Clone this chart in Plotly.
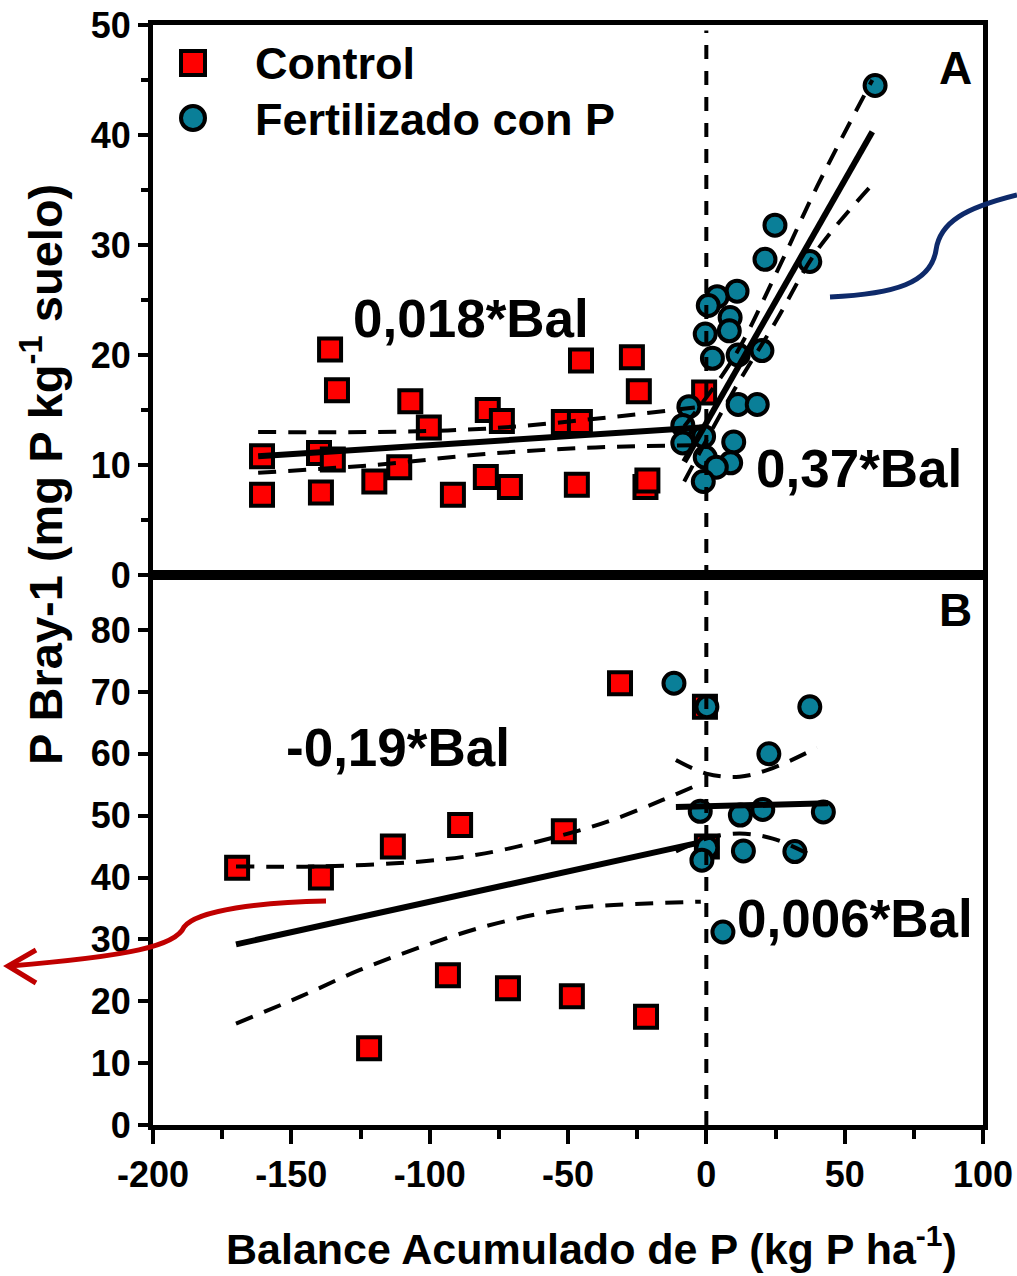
import plotly.graph_objects as go

# ---------------- data ----------------
# Panel A (top)
ctrl_top_x = [-160.6, -160.6, -139.3, -140.0, -135.0, -136.0, -133.5, -120.0, -111.0, -107.0,
              -100.3, -91.6, -79.0, -79.7, -73.9, -71.0, -51.5, -46.8, -45.7, -45.3,
              -26.9, -24.4, -22.0, -21.3, -0.8]
ctrl_top_y = [7.3, 10.8, 7.5, 11.1, 10.5, 20.5, 16.8, 8.5, 9.8, 15.8,
              13.4, 7.3, 15.0, 8.9, 14.0, 8.0, 13.9, 8.2, 13.9, 19.5,
              19.8, 16.7, 8.0, 8.6, 16.6]
fert_top_x = [61.0, 24.8, 21.2, 37.4, 11.1, 3.9, 0.7, 8.6, -0.4, 8.3,
              2.2, 11.5, 20.1, 11.5, 18.4, -6.3, -8.5, -8.5, -1.0, 9.9,
              8.8, -0.4, 3.6, -1.1]
fert_top_y = [44.5, 31.8, 28.7, 28.5, 25.8, 25.3, 24.5, 23.4, 21.9, 22.2,
              19.7, 20.0, 20.4, 15.5, 15.5, 15.3, 13.6, 12.0, 12.6, 12.1,
              10.2, 10.7, 9.8, 8.5]
ctrl_top_fit_x = [-162, -2]
ctrl_top_fit_y = [10.8, 13.4]
ctrl_top_band_x = [-162, -120, -80, -40, -2]
ctrl_top_upper = [13.0, 13.0, 13.3, 14.2, 15.3]
ctrl_top_lower = [9.3, 10.0, 11.0, 11.6, 11.8]
fert_top_fit_x = [-8, 60]
fert_top_fit_y = [10.3, 40.3]
fert_top_band_x = [-8, 10, 25, 40, 60]
fert_top_upper = [13.5, 19.8, 27.3, 35.3, 45.0]
fert_top_lower = [8.5, 16.8, 23.0, 29.5, 35.5]

# Panel B (bottom)
ctrl_bot_x = [-169.6, -139.3, -113.3, -89.0, -51.5, -31.2, -0.5, 0.2, -93.4, -71.7, -48.6, -21.8, -121.9]
ctrl_bot_y = [41.6, 40.0, 45.0, 48.5, 47.5, 71.4, 67.6, 45.0, 24.2, 22.1, 20.8, 17.5, 12.4]
fert_bot_x = [-11.7, 37.4, 22.6, -2.2, 12.3, 20.4, 42.3, 0.2, -1.6, 13.4, 32.0, 6.0, 0.2]
fert_bot_y = [71.4, 67.6, 60.0, 50.7, 50.1, 51.0, 50.6, 44.8, 42.8, 44.3, 44.2, 31.2, 67.6]
ctrl_bot_fit_x = [-170, -3]
ctrl_bot_fit_y = [29.2, 45.6]
ctrl_bot_upper_x = [-170, -140, -103, -80, -50, -34, -16, -2]
ctrl_bot_upper = [41.8, 41.8, 42.6, 43.9, 47.1, 49.3, 52.5, 55.2]
ctrl_bot_lower_x = [-170, -147, -125, -103, -80, -56, -42, -2]
ctrl_bot_lower = [16.4, 20.7, 25.1, 28.8, 32.1, 34.5, 35.3, 36.1]
fert_bot_fit_x = [-11, 44]
fert_bot_fit_y = [51.4, 52.0]
fert_bot_band_x = [-11, 0, 12, 24, 40]
fert_bot_upper = [59.0, 56.8, 56.3, 57.7, 61.0]
fert_bot_lower = [44.2, 46.3, 47.1, 46.3, 43.1]

x_ticks = [-200, -150, -100, -50, 0, 50, 100]
x_tick_labels = ["-200", "-150", "-100", "-50", "0", "50", "100"]
legend_labels = ["Control", "Fertilizado con P"]
slope_labels = ["0,018*Bal", "0,37*Bal", "-0,19*Bal", "0,006*Bal"]

# ---------------- styling ----------------
RED = "#ff0000"
TEAL = "#0a7f98"
FONT = "Arial, Liberation Sans, sans-serif"
W, H = 1017, 1276
L, R, T, B = 153, 34, 25, 151
PW, PH = W - L - R, H - T - B


def px(x):
    return (x - L) / PW


def py(y):
    return (H - B - y) / PH


fig = go.Figure()

sq = dict(symbol="square", size=22, color=RED, line=dict(color="black", width=4))
ci = dict(symbol="circle", size=21, color=TEAL, line=dict(color="black", width=4))
solid = dict(color="black", width=6)
dashed = dict(color="black", width=4, dash="18px,12px")

# top panel (xaxis2 / yaxis2)
fig.add_trace(go.Scatter(x=ctrl_top_x, y=ctrl_top_y, mode="markers", marker=sq, xaxis="x2", yaxis="y2"))
fig.add_trace(go.Scatter(x=fert_top_x, y=fert_top_y, mode="markers", marker=ci, xaxis="x2", yaxis="y2"))
fig.add_trace(go.Scatter(x=ctrl_top_fit_x, y=ctrl_top_fit_y, mode="lines", line=solid, xaxis="x2", yaxis="y2"))
fig.add_trace(go.Scatter(x=ctrl_top_band_x, y=ctrl_top_upper, mode="lines", line=dict(dashed, shape="spline"), xaxis="x2", yaxis="y2"))
fig.add_trace(go.Scatter(x=ctrl_top_band_x, y=ctrl_top_lower, mode="lines", line=dict(dashed, shape="spline"), xaxis="x2", yaxis="y2"))
fig.add_trace(go.Scatter(x=fert_top_fit_x, y=fert_top_fit_y, mode="lines", line=solid, xaxis="x2", yaxis="y2"))
fig.add_trace(go.Scatter(x=fert_top_band_x, y=fert_top_upper, mode="lines", line=dict(dashed, shape="spline"), xaxis="x2", yaxis="y2"))
fig.add_trace(go.Scatter(x=fert_top_band_x, y=fert_top_lower, mode="lines", line=dict(dashed, shape="spline"), xaxis="x2", yaxis="y2"))

# bottom panel
fig.add_trace(go.Scatter(x=ctrl_bot_x, y=ctrl_bot_y, mode="markers", marker=sq))
fig.add_trace(go.Scatter(x=fert_bot_x, y=fert_bot_y, mode="markers", marker=ci))
fig.add_trace(go.Scatter(x=ctrl_bot_fit_x, y=ctrl_bot_fit_y, mode="lines", line=solid))
fig.add_trace(go.Scatter(x=ctrl_bot_upper_x, y=ctrl_bot_upper, mode="lines", line=dict(dashed, shape="spline")))
fig.add_trace(go.Scatter(x=ctrl_bot_lower_x, y=ctrl_bot_lower, mode="lines", line=dict(dashed, shape="spline")))
fig.add_trace(go.Scatter(x=fert_bot_fit_x, y=fert_bot_fit_y, mode="lines", line=solid))
fig.add_trace(go.Scatter(x=fert_bot_band_x, y=fert_bot_upper, mode="lines", line=dict(dashed, shape="spline")))
fig.add_trace(go.Scatter(x=fert_bot_band_x, y=fert_bot_lower, mode="lines", line=dict(dashed, shape="spline")))

tickfont = dict(family=FONT, size=36, color="black", weight="bold")
axis_common = dict(showline=True, linewidth=5, linecolor="black", mirror=True,
                   showgrid=False, zeroline=False, tickcolor="black", tickwidth=4,
                   tickfont=tickfont, automargin=False)

fig.update_layout(
    width=W, height=H,
    margin=dict(l=L, r=R, t=T, b=B, autoexpand=False),
    paper_bgcolor="white", plot_bgcolor="white",
    showlegend=False,
    xaxis=dict(axis_common, domain=[0, 1], anchor="y", range=[-200, 100],
               tickmode="array", tickvals=x_ticks, ticktext=x_tick_labels,
               ticks="outside", ticklen=14,
               minor=dict(tickmode="linear", tick0=-200, dtick=25, ticks="outside", ticklen=9,
                          tickwidth=4, tickcolor="black", showgrid=False)),
    yaxis=dict(axis_common, domain=[0, 0.5], anchor="x", range=[0, 88.9],
               tick0=0, dtick=10, ticks="outside", ticklen=10),
    xaxis2=dict(axis_common, domain=[0, 1], anchor="y2", range=[-200, 100], matches="x",
                showticklabels=False, ticks=""),
    yaxis2=dict(axis_common, domain=[0.5, 1], anchor="x2", range=[0, 50],
                tick0=0, dtick=10, ticks="outside", ticklen=10,
                minor=dict(tick0=0, dtick=5, ticks="outside", ticklen=7, tickwidth=4,
                           tickcolor="black", showgrid=False)),
)

shapes = []
# vertical dashed reference line at x = 0 across both panels
shapes.append(dict(type="line", xref="x", yref="paper", x0=0, x1=0, y0=0, y1=0.995,
                   line=dict(color="black", width=4, dash="14px,12px"), layer="above"))
# legend symbols
shapes.append(dict(type="rect", xref="paper", yref="paper",
                   x0=px(181), x1=px(205), y0=py(75), y1=py(51),
                   fillcolor=RED, line=dict(color="black", width=4)))
shapes.append(dict(type="circle", xref="paper", yref="paper",
                   x0=px(181), x1=px(205), y0=py(130), y1=py(106),
                   fillcolor=TEAL, line=dict(color="black", width=4)))


def path(cmds):
    out = []
    for c in cmds:
        if isinstance(c, str):
            out.append(c)
        else:
            out.append(f"{px(c[0]):.5f},{py(c[1]):.5f}")
    return " ".join(out)


# decorative blue curve (right side)
shapes.append(dict(type="path", xref="paper", yref="paper",
                   path=path(["M", (830, 297), "C", (895, 294), (931, 283), (936, 250),
                              "C", (940, 222), (965, 208), (1017, 195)]),
                   line=dict(color="#0e2a6a", width=5)))
# decorative red arrow (left side)
shapes.append(dict(type="path", xref="paper", yref="paper",
                   path=path(["M", (326, 901), "C", (262, 902), (197, 910), (184, 927),
                              "C", (176, 946), (130, 956), (10, 966)]),
                   line=dict(color="#c00000", width=5)))
shapes.append(dict(type="path", xref="paper", yref="paper",
                   path=path(["M", (36, 950), "L", (8, 966), "L", (36, 983)]),
                   line=dict(color="#c00000", width=5)))
fig.update_layout(shapes=shapes)

ann = []


def text(t, x, y, size, xanchor="center", angle=0):
    ann.append(dict(text=f"<b>{t}</b>", xref="paper", yref="paper", x=px(x), y=py(y),
                    xanchor=xanchor, yanchor="middle", showarrow=False, textangle=angle,
                    font=dict(family=FONT, size=size, color="black")))


text(legend_labels[0], 253, 63, 45, xanchor="left")
text(legend_labels[1], 253, 120, 45, xanchor="left")
text(slope_labels[0], 471, 318, 53)
text(slope_labels[1], 859, 468, 53)
text(slope_labels[2], 398, 747, 53)
text(slope_labels[3], 855, 918, 53)
text("A", 955, 68, 46)
text("B", 955, 610, 46)
text("Balance Acumulado de P (kg P ha<sup>-1</sup>)", 591, 1246, 43)
text("P Bray-1 (mg P kg<sup>-1</sup> suelo)", 42, 475, 47, angle=-90)
fig.update_layout(annotations=ann)

fig.write_html("out.html")
